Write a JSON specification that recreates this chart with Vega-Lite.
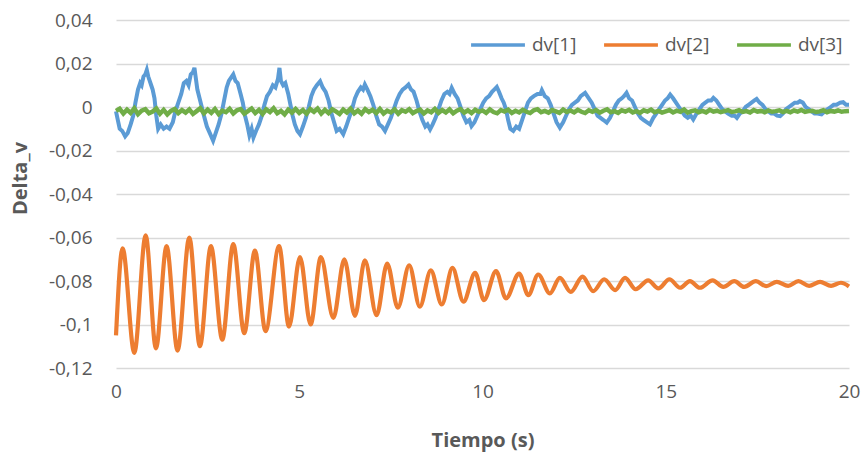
{
"$schema": "https://vega.github.io/schema/vega-lite/v6.json",
"width": 733, "height": 348, "autosize": "none",
"padding": {"left": 116, "top": 20, "right": 17, "bottom": 87},
"background": "white",
"config": {"view": {"stroke": null}, "font": "Open Sans"},
"datasets": {
"blue": [
{"t":0.00,"v":-0.002},{"t":0.05,"v":-0.006},{"t":0.10,"v":-0.010},{"t":0.17,"v":-0.011},{"t":0.25,"v":-0.0135},{"t":0.32,"v":-0.012},{"t":0.40,"v":-0.008},{"t":0.47,"v":-0.004},{"t":0.53,"v":0.002},{"t":0.60,"v":0.008},{"t":0.66,"v":0.011},{"t":0.70,"v":0.010},{"t":0.75,"v":0.014},{"t":0.80,"v":0.015},{"t":0.84,"v":0.017},{"t":0.88,"v":0.014},{"t":0.92,"v":0.012},{"t":0.96,"v":0.010},{"t":1.00,"v":0.008},{"t":1.05,"v":0.004},{"t":1.10,"v":-0.004},{"t":1.15,"v":-0.010},{"t":1.22,"v":-0.008},{"t":1.30,"v":-0.010},{"t":1.38,"v":-0.009},{"t":1.46,"v":-0.010},{"t":1.55,"v":-0.007},{"t":1.62,"v":-0.002},{"t":1.70,"v":0.002},{"t":1.78,"v":0.006},{"t":1.85,"v":0.011},{"t":1.92,"v":0.012},{"t":1.98,"v":0.010},{"t":2.04,"v":0.015},{"t":2.10,"v":0.016},{"t":2.14,"v":0.018},{"t":2.18,"v":0.013},{"t":2.22,"v":0.008},{"t":2.28,"v":0.004},{"t":2.34,"v":0.000},{"t":2.40,"v":-0.004},{"t":2.48,"v":-0.009},{"t":2.56,"v":-0.012},{"t":2.65,"v":-0.0155},{"t":2.72,"v":-0.012},{"t":2.80,"v":-0.008},{"t":2.88,"v":-0.003},{"t":2.95,"v":0.003},{"t":3.02,"v":0.009},{"t":3.08,"v":0.012},{"t":3.14,"v":0.0135},{"t":3.20,"v":0.015},{"t":3.26,"v":0.012},{"t":3.32,"v":0.011},{"t":3.40,"v":0.006},{"t":3.46,"v":0.002},{"t":3.52,"v":-0.004},{"t":3.58,"v":-0.008},{"t":3.64,"v":-0.013},{"t":3.70,"v":-0.010},{"t":3.75,"v":-0.014},{"t":3.82,"v":-0.011},{"t":3.90,"v":-0.008},{"t":3.98,"v":-0.004},{"t":4.05,"v":0.001},{"t":4.12,"v":0.005},{"t":4.20,"v":0.007},{"t":4.28,"v":0.010},{"t":4.35,"v":0.009},{"t":4.42,"v":0.013},{"t":4.46,"v":0.018},{"t":4.50,"v":0.012},{"t":4.56,"v":0.010},{"t":4.62,"v":0.011},{"t":4.70,"v":0.006},{"t":4.76,"v":0.001},{"t":4.82,"v":-0.004},{"t":4.88,"v":-0.008},{"t":4.95,"v":-0.011},{"t":5.02,"v":-0.0125},{"t":5.10,"v":-0.009},{"t":5.18,"v":-0.005},{"t":5.26,"v":0.000},{"t":5.33,"v":0.005},{"t":5.40,"v":0.008},{"t":5.48,"v":0.010},{"t":5.57,"v":0.0118},{"t":5.64,"v":0.009},{"t":5.72,"v":0.007},{"t":5.80,"v":0.003},{"t":5.88,"v":-0.003},{"t":5.95,"v":-0.007},{"t":6.02,"v":-0.011},{"t":6.10,"v":-0.010},{"t":6.20,"v":-0.0125},{"t":6.28,"v":-0.009},{"t":6.36,"v":-0.005},{"t":6.44,"v":-0.001},{"t":6.52,"v":0.004},{"t":6.60,"v":0.007},{"t":6.68,"v":0.009},{"t":6.74,"v":0.008},{"t":6.79,"v":0.0103},{"t":6.86,"v":0.008},{"t":6.94,"v":0.005},{"t":7.02,"v":0.001},{"t":7.10,"v":-0.004},{"t":7.18,"v":-0.008},{"t":7.26,"v":-0.009},{"t":7.34,"v":-0.011},{"t":7.42,"v":-0.008},{"t":7.50,"v":-0.005},{"t":7.58,"v":-0.001},{"t":7.66,"v":0.003},{"t":7.74,"v":0.006},{"t":7.82,"v":0.008},{"t":7.90,"v":0.009},{"t":7.98,"v":0.0103},{"t":8.05,"v":0.008},{"t":8.12,"v":0.007},{"t":8.20,"v":0.003},{"t":8.28,"v":-0.002},{"t":8.36,"v":-0.006},{"t":8.44,"v":-0.009},{"t":8.50,"v":-0.008},{"t":8.57,"v":-0.0103},{"t":8.64,"v":-0.008},{"t":8.72,"v":-0.005},{"t":8.80,"v":-0.001},{"t":8.88,"v":0.003},{"t":8.96,"v":0.006},{"t":9.04,"v":0.007},{"t":9.10,"v":0.006},{"t":9.16,"v":0.0088},{"t":9.24,"v":0.006},{"t":9.32,"v":0.004},{"t":9.40,"v":0.000},{"t":9.48,"v":-0.004},{"t":9.56,"v":-0.007},{"t":9.64,"v":-0.006},{"t":9.70,"v":-0.0088},{"t":9.78,"v":-0.007},{"t":9.86,"v":-0.004},{"t":9.94,"v":-0.001},{"t":10.02,"v":0.002},{"t":10.10,"v":0.004},{"t":10.18,"v":0.005},{"t":10.26,"v":0.007},{"t":10.32,"v":0.008},{"t":10.39,"v":0.0092},{"t":10.45,"v":0.007},{"t":10.52,"v":0.004},{"t":10.58,"v":0.002},{"t":10.64,"v":-0.001},{"t":10.70,"v":-0.006},{"t":10.76,"v":-0.010},{"t":10.84,"v":-0.011},{"t":10.92,"v":-0.009},{"t":11.00,"v":-0.010},{"t":11.08,"v":-0.006},{"t":11.16,"v":-0.002},{"t":11.24,"v":0.002},{"t":11.32,"v":0.004},{"t":11.40,"v":0.005},{"t":11.50,"v":0.006},{"t":11.58,"v":0.006},{"t":11.62,"v":0.0077},{"t":11.70,"v":0.005},{"t":11.78,"v":0.004},{"t":11.86,"v":0.001},{"t":11.94,"v":-0.003},{"t":12.02,"v":-0.007},{"t":12.11,"v":-0.0095},{"t":12.20,"v":-0.007},{"t":12.28,"v":-0.004},{"t":12.36,"v":-0.001},{"t":12.44,"v":0.001},{"t":12.52,"v":0.002},{"t":12.60,"v":0.003},{"t":12.68,"v":0.005},{"t":12.80,"v":0.0065},{"t":12.90,"v":0.004},{"t":12.98,"v":0.002},{"t":13.06,"v":-0.001},{"t":13.14,"v":-0.004},{"t":13.22,"v":-0.005},{"t":13.30,"v":-0.006},{"t":13.39,"v":-0.0072},{"t":13.48,"v":-0.005},{"t":13.56,"v":-0.002},{"t":13.64,"v":0.001},{"t":13.72,"v":0.003},{"t":13.80,"v":0.004},{"t":13.86,"v":0.005},{"t":13.93,"v":0.0065},{"t":14.00,"v":0.004},{"t":14.08,"v":0.003},{"t":14.16,"v":0.000},{"t":14.24,"v":-0.003},{"t":14.32,"v":-0.005},{"t":14.40,"v":-0.006},{"t":14.48,"v":-0.007},{"t":14.57,"v":-0.008},{"t":14.66,"v":-0.005},{"t":14.74,"v":-0.003},{"t":14.82,"v":-0.001},{"t":14.90,"v":0.001},{"t":14.98,"v":0.003},{"t":15.05,"v":0.004},{"t":15.12,"v":0.0057},{"t":15.20,"v":0.004},{"t":15.28,"v":0.002},{"t":15.36,"v":0.000},{"t":15.44,"v":-0.002},{"t":15.52,"v":-0.004},{"t":15.60,"v":-0.005},{"t":15.68,"v":-0.004},{"t":15.75,"v":-0.0057},{"t":15.84,"v":-0.003},{"t":15.92,"v":-0.001},{"t":16.00,"v":0.001},{"t":16.08,"v":0.002},{"t":16.16,"v":0.003},{"t":16.24,"v":0.003},{"t":16.30,"v":0.0042},{"t":16.38,"v":0.003},{"t":16.46,"v":0.001},{"t":16.54,"v":-0.001},{"t":16.62,"v":-0.002},{"t":16.70,"v":-0.003},{"t":16.80,"v":-0.004},{"t":16.88,"v":-0.004},{"t":16.94,"v":-0.005},{"t":17.02,"v":-0.003},{"t":17.10,"v":-0.002},{"t":17.18,"v":0.000},{"t":17.26,"v":0.001},{"t":17.34,"v":0.002},{"t":17.42,"v":0.003},{"t":17.48,"v":0.0037},{"t":17.56,"v":0.002},{"t":17.64,"v":0.001},{"t":17.72,"v":-0.001},{"t":17.80,"v":-0.002},{"t":17.88,"v":-0.003},{"t":17.96,"v":-0.003},{"t":18.04,"v":-0.004},{"t":18.12,"v":-0.0042},{"t":18.20,"v":-0.003},{"t":18.28,"v":-0.001},{"t":18.36,"v":0.000},{"t":18.44,"v":0.001},{"t":18.52,"v":0.002},{"t":18.60,"v":0.002},{"t":18.66,"v":0.0027},{"t":18.74,"v":0.002},{"t":18.82,"v":0.000},{"t":18.90,"v":-0.001},{"t":18.98,"v":-0.002},{"t":19.06,"v":-0.003},{"t":19.14,"v":-0.003},{"t":19.25,"v":-0.0034},{"t":19.34,"v":-0.002},{"t":19.42,"v":-0.001},{"t":19.50,"v":0.000},{"t":19.58,"v":0.001},{"t":19.66,"v":0.001},{"t":19.76,"v":0.002},{"t":19.84,"v":0.0022},{"t":19.92,"v":0.001},{"t":20.00,"v":0.001}
],
"orange": [
{"t":0,"v":-0.105},{"t":0.18,"v":-0.065},{"t":0.50,"v":-0.113},{"t":0.81,"v":-0.059},{"t":1.09,"v":-0.111},{"t":1.38,"v":-0.064},{"t":1.68,"v":-0.112},{"t":2.00,"v":-0.060},{"t":2.29,"v":-0.110},{"t":2.59,"v":-0.064},{"t":2.90,"v":-0.107},{"t":3.20,"v":-0.063},{"t":3.50,"v":-0.104},{"t":3.79,"v":-0.066},{"t":4.08,"v":-0.103},{"t":4.45,"v":-0.064},{"t":4.72,"v":-0.101},{"t":5.02,"v":-0.069},{"t":5.31,"v":-0.100},{"t":5.59,"v":-0.069},{"t":5.93,"v":-0.097},{"t":6.23,"v":-0.070},{"t":6.52,"v":-0.096},{"t":6.79,"v":-0.0705},{"t":7.11,"v":-0.0957},{"t":7.40,"v":-0.072},{"t":7.69,"v":-0.0923},{"t":8.00,"v":-0.0728},{"t":8.29,"v":-0.0918},{"t":8.59,"v":-0.0751},{"t":8.89,"v":-0.0908},{"t":9.18,"v":-0.074},{"t":9.48,"v":-0.0895},{"t":9.80,"v":-0.0763},{"t":10.04,"v":-0.0888},{"t":10.37,"v":-0.0755},{"t":10.64,"v":-0.088},{"t":11.00,"v":-0.0766},{"t":11.25,"v":-0.0865},{"t":11.52,"v":-0.077},{"t":11.84,"v":-0.0857},{"t":12.11,"v":-0.0786},{"t":12.41,"v":-0.085},{"t":12.73,"v":-0.078},{"t":13.02,"v":-0.0847},{"t":13.32,"v":-0.0792},{"t":13.62,"v":-0.0842},{"t":13.89,"v":-0.0786},{"t":14.18,"v":-0.0838},{"t":14.52,"v":-0.0797},{"t":14.80,"v":-0.0834},{"t":15.10,"v":-0.0792},{"t":15.39,"v":-0.0831},{"t":15.66,"v":-0.0801},{"t":15.93,"v":-0.0831},{"t":16.28,"v":-0.0797},{"t":16.57,"v":-0.0827},{"t":16.87,"v":-0.0801},{"t":17.14,"v":-0.0827},{"t":17.46,"v":-0.0801},{"t":17.74,"v":-0.0824},{"t":18.03,"v":-0.0804},{"t":18.34,"v":-0.0822},{"t":18.62,"v":-0.0801},{"t":18.91,"v":-0.0822},{"t":19.21,"v":-0.0804},{"t":19.51,"v":-0.0822},{"t":19.78,"v":-0.0808},{"t":20.0,"v":-0.0825}
],
"green": [
{"t":0.0,"v":-0.0018},{"t":0.1,"v":-0.0008},{"t":0.2,"v":-0.0030},{"t":0.3,"v":-0.0012},{"t":0.4,"v":-0.0027},{"t":0.5,"v":-0.0006},{"t":0.6,"v":-0.0033},{"t":0.7,"v":-0.0017},{"t":0.8,"v":-0.0010},{"t":0.9,"v":-0.0029},
{"t":1.0,"v":-0.0021},{"t":1.1,"v":-0.0007},{"t":1.2,"v":-0.0031},{"t":1.3,"v":-0.0013},{"t":1.4,"v":-0.0034},{"t":1.5,"v":-0.0018},{"t":1.6,"v":-0.0009},{"t":1.7,"v":-0.0028},{"t":1.8,"v":-0.0014},{"t":1.9,"v":-0.0026},
{"t":2.0,"v":-0.0011},{"t":2.1,"v":-0.0032},{"t":2.2,"v":-0.0019},{"t":2.3,"v":-0.0006},{"t":2.4,"v":-0.0029},{"t":2.5,"v":-0.0012},{"t":2.6,"v":-0.0027},{"t":2.7,"v":-0.0009},{"t":2.8,"v":-0.0033},{"t":2.9,"v":-0.0017},
{"t":3.0,"v":-0.0024},{"t":3.1,"v":-0.0008},{"t":3.2,"v":-0.0030},{"t":3.3,"v":-0.0015},{"t":3.4,"v":-0.0010},{"t":3.5,"v":-0.0031},{"t":3.6,"v":-0.0019},{"t":3.7,"v":-0.0007},{"t":3.8,"v":-0.0028},{"t":3.9,"v":-0.0013},
{"t":4.0,"v":-0.0032},{"t":4.1,"v":-0.0011},{"t":4.2,"v":-0.0023},{"t":4.3,"v":-0.0006},{"t":4.4,"v":-0.0029},{"t":4.5,"v":-0.0018},{"t":4.6,"v":-0.0034},{"t":4.7,"v":-0.0012},{"t":4.8,"v":-0.0026},{"t":4.9,"v":-0.0009},
{"t":5.0,"v":-0.0027},{"t":5.1,"v":-0.0014},{"t":5.2,"v":-0.0031},{"t":5.3,"v":-0.0010},{"t":5.4,"v":-0.0022},{"t":5.5,"v":-0.0007},{"t":5.6,"v":-0.0030},{"t":5.7,"v":-0.0013},{"t":5.8,"v":-0.0028},{"t":5.9,"v":-0.0011},
{"t":6.0,"v":-0.0020},{"t":6.1,"v":-0.0032},{"t":6.2,"v":-0.0012},{"t":6.3,"v":-0.0025},{"t":6.4,"v":-0.0008},{"t":6.5,"v":-0.0029},{"t":6.6,"v":-0.0016},{"t":6.7,"v":-0.0031},{"t":6.8,"v":-0.0010},{"t":6.9,"v":-0.0023},
{"t":7.0,"v":-0.0013},{"t":7.1,"v":-0.0028},{"t":7.2,"v":-0.0009},{"t":7.3,"v":-0.0030},{"t":7.4,"v":-0.0017},{"t":7.5,"v":-0.0025},{"t":7.6,"v":-0.0011},{"t":7.7,"v":-0.0031},{"t":7.8,"v":-0.0015},{"t":7.9,"v":-0.0022},
{"t":8.0,"v":-0.0010},{"t":8.1,"v":-0.0028},{"t":8.2,"v":-0.0019},{"t":8.3,"v":-0.0012},{"t":8.4,"v":-0.0030},{"t":8.5,"v":-0.0016},{"t":8.6,"v":-0.0024},{"t":8.7,"v":-0.0009},{"t":8.8,"v":-0.0027},{"t":8.9,"v":-0.0014},
{"t":9.0,"v":-0.0025},{"t":9.1,"v":-0.0011},{"t":9.2,"v":-0.0029},{"t":9.3,"v":-0.0017},{"t":9.4,"v":-0.0010},{"t":9.5,"v":-0.0026},{"t":9.6,"v":-0.0015},{"t":9.7,"v":-0.0028},{"t":9.8,"v":-0.0013},{"t":9.9,"v":-0.0022},
{"t":10.0,"v":-0.0016},{"t":10.1,"v":-0.0027},{"t":10.2,"v":-0.0011},{"t":10.3,"v":-0.0023},{"t":10.4,"v":-0.0029},{"t":10.5,"v":-0.0014},{"t":10.6,"v":-0.0021},{"t":10.7,"v":-0.0012},{"t":10.8,"v":-0.0027},{"t":10.9,"v":-0.0017},
{"t":11.0,"v":-0.0025},{"t":11.1,"v":-0.0013},{"t":11.2,"v":-0.0022},{"t":11.3,"v":-0.0028},{"t":11.4,"v":-0.0015},{"t":11.5,"v":-0.0010},{"t":11.6,"v":-0.0024},{"t":11.7,"v":-0.0018},{"t":11.8,"v":-0.0026},{"t":11.9,"v":-0.0014},
{"t":12.0,"v":-0.0020},{"t":12.1,"v":-0.0027},{"t":12.2,"v":-0.0012},{"t":12.3,"v":-0.0023},{"t":12.4,"v":-0.0016},{"t":12.5,"v":-0.0025},{"t":12.6,"v":-0.0013},{"t":12.7,"v":-0.0022},{"t":12.8,"v":-0.0028},{"t":12.9,"v":-0.0015},
{"t":13.0,"v":-0.0022},{"t":13.1,"v":-0.0014},{"t":13.2,"v":-0.0026},{"t":13.3,"v":-0.0017},{"t":13.4,"v":-0.0011},{"t":13.5,"v":-0.0024},{"t":13.6,"v":-0.0019},{"t":13.7,"v":-0.0027},{"t":13.8,"v":-0.0015},{"t":13.9,"v":-0.0021},
{"t":14.0,"v":-0.0013},{"t":14.1,"v":-0.0025},{"t":14.2,"v":-0.0019},{"t":14.3,"v":-0.0027},{"t":14.4,"v":-0.0015},{"t":14.5,"v":-0.0021},{"t":14.6,"v":-0.0012},{"t":14.7,"v":-0.0024},{"t":14.8,"v":-0.0018},{"t":14.9,"v":-0.0026},
{"t":15.0,"v":-0.0020},{"t":15.1,"v":-0.0014},{"t":15.2,"v":-0.0025},{"t":15.3,"v":-0.0017},{"t":15.4,"v":-0.0022},{"t":15.5,"v":-0.0012},{"t":15.6,"v":-0.0026},{"t":15.7,"v":-0.0019},{"t":15.8,"v":-0.0015},{"t":15.9,"v":-0.0024},
{"t":16.0,"v":-0.0018},{"t":16.1,"v":-0.0025},{"t":16.2,"v":-0.0013},{"t":16.3,"v":-0.0021},{"t":16.4,"v":-0.0017},{"t":16.5,"v":-0.0024},{"t":16.6,"v":-0.0019},{"t":16.7,"v":-0.0014},{"t":16.8,"v":-0.0023},{"t":16.9,"v":-0.0020},
{"t":17.0,"v":-0.0015},{"t":17.1,"v":-0.0023},{"t":17.2,"v":-0.0019},{"t":17.3,"v":-0.0025},{"t":17.4,"v":-0.0014},{"t":17.5,"v":-0.0021},{"t":17.6,"v":-0.0018},{"t":17.7,"v":-0.0024},{"t":17.8,"v":-0.0016},{"t":17.9,"v":-0.0022},
{"t":18.0,"v":-0.0019},{"t":18.1,"v":-0.0015},{"t":18.2,"v":-0.0023},{"t":18.3,"v":-0.0018},{"t":18.4,"v":-0.0024},{"t":18.5,"v":-0.0016},{"t":18.6,"v":-0.0021},{"t":18.7,"v":-0.0014},{"t":18.8,"v":-0.0022},{"t":18.9,"v":-0.0019},
{"t":19.0,"v":-0.0017},{"t":19.1,"v":-0.0023},{"t":19.2,"v":-0.0020},{"t":19.3,"v":-0.0015},{"t":19.4,"v":-0.0024},{"t":19.5,"v":-0.0018},{"t":19.6,"v":-0.0021},{"t":19.7,"v":-0.0016},{"t":19.8,"v":-0.0022},{"t":19.9,"v":-0.0019},{"t":20.0,"v":-0.0018}
]
},
"encoding": {
"x": {"field": "t", "type": "quantitative",
  "scale": {"domain": [0, 20], "nice": false, "zero": false},
  "axis": {"title": "Tiempo (s)", "values": [0, 5, 10, 15, 20], "grid": false, "ticks": false, "domain": false, "labelFlush": false,
    "labelFont": "Open Sans", "labelFontSize": 19, "labelColor": "#595959", "labelPadding": 14,
    "titleFont": "Open Sans", "titleFontSize": 20, "titleFontWeight": "bold", "titleColor": "#595959",
    "titleY": 72, "titleBaseline": "middle"}},
"y": {"field": "v", "type": "quantitative",
  "scale": {"domain": [-0.12, 0.04], "nice": false, "zero": false},
  "axis": {"title": "Delta_v", "values": [-0.12, -0.1, -0.08, -0.06, -0.04, -0.02, 0, 0.02, 0.04],
    "labelExpr": "replace(replace(format(datum.value, '.2~f'), '.', ','), '\u2212', '-')",
    "grid": true, "gridColor": "#D9D9D9", "gridWidth": 1.3, "ticks": false, "domain": false, "labelFlush": false,
    "labelFont": "Open Sans", "labelFontSize": 19, "labelColor": "#595959", "labelPadding": 24,
    "titleFont": "Open Sans", "titleFontSize": 20, "titleFontWeight": "bold", "titleColor": "#595959",
    "titleX": -96, "titleY": 158, "titleBaseline": "middle"}}
},
"layer": [
{"data": {"name": "blue"}, "mark": {"type": "line", "strokeWidth": 4},
 "encoding": {"color": {"datum": "dv[1]", "type": "nominal",
   "scale": {"domain": ["dv[1]", "dv[2]", "dv[3]"], "range": ["#5B9BD5", "#ED7D31", "#70AD47"]},
   "legend": {"orient": "none", "legendX": 353, "legendY": -4, "direction": "horizontal", "title": null,
     "symbolType": "stroke", "symbolSize": 2900, "symbolStrokeWidth": 3.5,
     "labelFont": "Open Sans", "labelFontSize": 19, "labelColor": "#595959", "labelOffset": 5, "columnPadding": 20}}}},
{"data": {"name": "orange"}, "mark": {"type": "line", "strokeWidth": 4.2, "interpolate": "monotone"},
 "encoding": {"color": {"datum": "dv[2]", "type": "nominal"}}},
{"data": {"name": "green"}, "mark": {"type": "line", "strokeWidth": 4.5},
 "encoding": {"color": {"datum": "dv[3]", "type": "nominal"}}}
]
}
